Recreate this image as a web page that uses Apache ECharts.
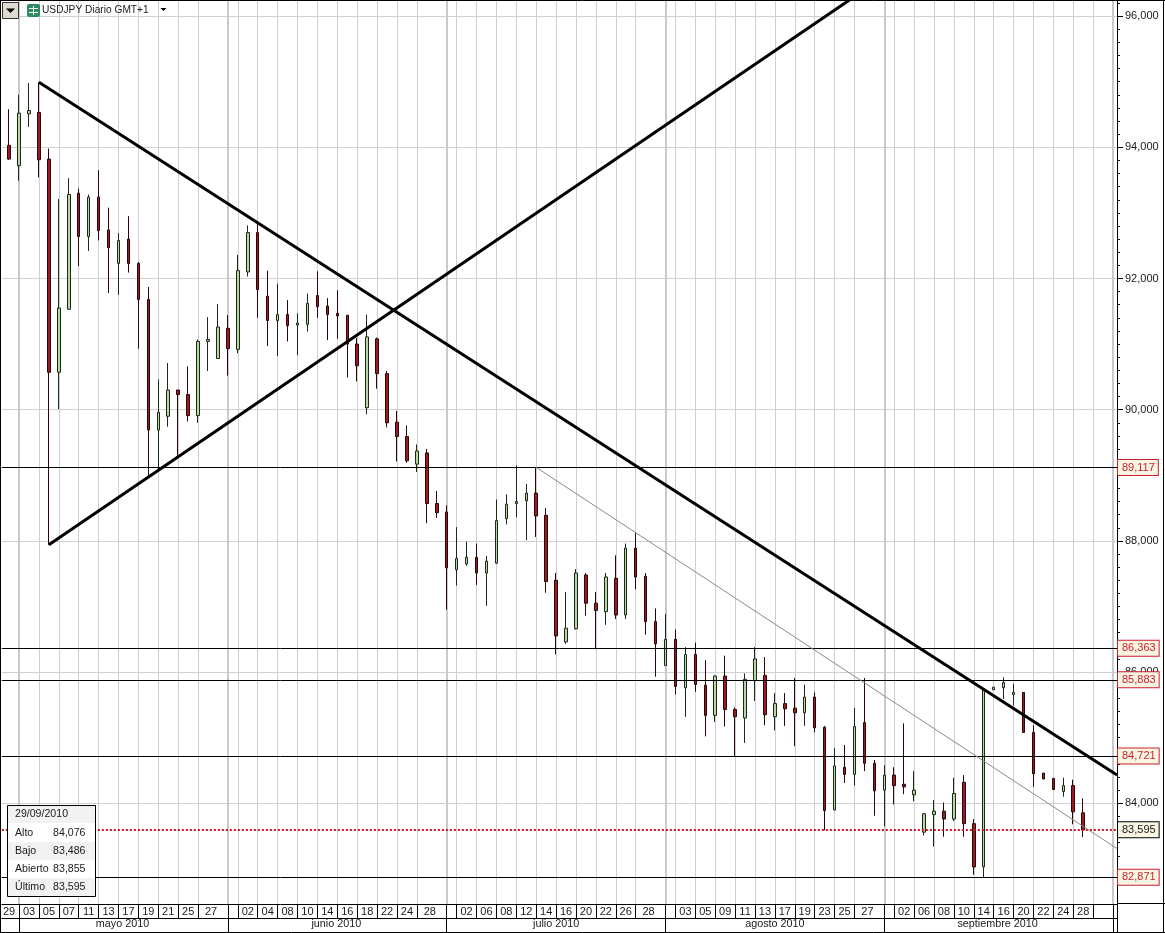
<!DOCTYPE html>
<html><head><meta charset="utf-8"><style>html,body{margin:0;padding:0;background:#fff}#c{width:1165px;height:933px}</style>
<script src="https://cdn.jsdelivr.net/npm/echarts@6/dist/echarts.min.js"></script></head>
<body><div id="c"></div>
<script>
const opens = [94.03,93.72,94.51,94.53,93.82,90.57,91.53,93.30,92.64,93.24,
92.74,92.23,92.60,92.23,91.68,89.69,89.90,90.30,90.23,89.91,
91.04,90.78,91.24,90.92,92.10,92.70,91.73,91.36,91.45,91.29,
91.30,91.74,91.58,91.47,91.44,91.00,90.03,91.08,90.55,89.81,
89.59,89.17,89.34,88.57,88.44,87.56,87.65,87.75,87.51,87.66,
88.34,88.57,88.61,88.73,88.39,87.40,86.46,86.66,87.48,87.05,
86.92,87.43,86.87,87.89,87.46,86.77,86.10,86.50,85.76,86.27,
85.80,85.34,85.94,85.43,85.30,85.87,85.95,85.32,85.52,85.45,
85.38,85.62,85.16,83.90,84.55,84.44,85.23,84.61,84.20,84.43,
84.29,84.13,83.56,83.83,83.88,83.76,84.32,83.69,83.03,85.73,
85.76,85.66,85.69,85.08,84.46,84.38,84.18,84.27,83.855];
const closes = [93.82,94.52,94.56,93.81,90.57,91.55,93.28,92.64,93.24,92.73,
92.47,92.58,92.23,91.68,89.69,89.96,90.30,90.23,89.91,91.04,
91.07,91.26,90.93,92.12,92.70,91.83,91.36,91.45,91.28,91.32,
91.62,91.57,91.45,91.43,91.00,90.67,91.11,90.55,89.80,89.59,
89.22,89.37,88.57,88.43,87.59,87.73,87.75,87.51,87.69,88.31,
88.56,88.60,88.73,88.38,87.38,86.55,86.67,87.51,87.05,86.94,
87.45,86.87,87.89,87.45,86.77,86.43,86.50,85.78,86.27,85.81,
85.34,85.94,85.43,85.32,85.89,86.20,85.35,85.52,85.44,85.38,
85.62,85.15,83.89,84.57,84.44,85.17,84.61,84.19,84.43,84.27,
84.25,84.20,83.84,83.88,83.76,84.15,83.69,83.03,85.74,85.77,
85.84,85.69,85.08,84.45,84.37,84.21,84.27,83.87,83.595];
const lows = [93.81,93.49,94.31,93.54,87.94,90.01,91.53,92.19,92.42,92.58,
91.78,91.75,92.09,90.93,88.99,89.05,89.74,89.26,89.82,89.80,
90.59,90.78,90.52,90.86,92.03,91.40,90.97,90.82,91.04,90.83,
91.19,91.40,91.06,91.08,90.49,90.43,89.93,90.32,89.73,89.21,
89.19,89.05,88.27,88.35,86.95,87.32,87.62,87.33,87.01,87.65,
88.25,88.36,88.01,88.06,87.21,86.27,86.43,86.65,86.86,86.35,
86.72,86.81,86.81,87.26,86.57,85.93,86.10,85.66,85.32,85.70,
85.02,85.24,85.17,84.72,84.92,85.56,85.19,85.11,85.18,84.87,
85.18,85.08,83.59,83.89,84.31,84.27,84.49,83.81,83.65,83.98,
84.14,84.03,83.51,83.34,83.49,83.73,83.49,82.91,82.87,85.73,
85.59,85.49,85.08,84.25,84.37,84.21,84.10,83.68,83.486];
const highs = [94.58,94.80,94.98,94.99,93.98,93.21,93.53,93.37,93.28,93.65,
93.08,92.69,92.95,92.25,91.87,90.46,90.71,90.30,90.66,91.07,
91.41,91.61,91.44,92.36,92.81,92.84,92.12,91.92,91.67,91.47,
91.77,92.11,91.70,91.82,91.44,91.09,91.45,91.10,90.59,89.98,
89.76,89.47,89.40,88.76,88.54,88.21,87.99,87.96,87.77,88.63,
88.71,89.15,88.87,89.12,88.50,87.51,87.22,87.57,87.51,87.22,
87.51,87.78,87.96,88.12,87.51,86.97,86.89,86.65,86.38,86.45,
86.18,85.95,86.25,85.46,85.98,86.38,86.23,85.68,85.68,85.91,
85.81,85.69,85.18,84.84,84.89,85.45,85.91,84.66,84.58,84.55,
85.22,84.49,83.85,84.05,84.01,84.39,84.43,83.76,85.75,85.77,
85.92,85.82,85.69,85.19,84.46,84.38,84.39,84.36,84.076];

const dayLabels = ['29','03','05','07','11','13','17','19','21','25','27',
 '02','04','08','10','14','16','18','22','24','28',
 '02','06','08','12','14','16','20','22','26','28',
 '03','05','09','11','13','17','19','23','25','27',
 '02','06','08','10','14','16','20','22','24','28'];
const dayLabelSlots = [1,3,5,7,9,11,13,15,17,19,21.3,
 25,27,29,31,33,35,37,39,41,43.3,
 47,49,51,53,55,57,59,61,63,65.3,
 69,71,73,75,77,79,81,83,85,87.3,
 91,93,95,97,99,101,103,105,107,109];
const dayTicks = [2,4,6,8,10,12,14,16,18,20,23,24,26,28,30,32,34,36,38,40,42,45,46,48,50,52,54,56,58,60,62,64,67,68,70,72,74,76,78,80,82,84,86,89,90,92,94,96,98,100,102,104,106,108,110,112];
const monthLabels = ['mayo 2010','junio 2010','julio 2010','agosto 2010','septiembre 2010'];
const monthLabelSlots = [12.4,33.9,56,78,100.4];
const monthTicks = [2,23,45,67,89,112];
const monthLines = [23,45,67,89,112];
const priceLabels = [84,86,88,90,92,94,96];
const levels = [89.117,86.363,85.883,84.721,82.871];
const lastPrice = 83.595;
const downTrend = [[4,94.99],[112.4,84.43]];
const upTrend = [[5,87.94],[85.5,96.245]];
const thinTrend = [[54,89.12],[112.4,83.31]];

const fmt = v => v.toFixed(3).replace('.', ',');
const minorTicks = [];
for (let k = 414; k <= 481; k++) minorTicks.push(k / 5);
const candles = opens.map((o, i) => [i + 1, o, closes[i], lows[i], highs[i]]);
const F = '"Liberation Sans", Arial, sans-serif';
const TXT = '#1a1a1a';
const last = opens.length - 1;

const xRange = {min: 0.267, max: 112.4};
const yRange = {min: 82.465, max: 96.245};

const tag = (v, border, color) => ({
  yAxis: v,
  lineStyle: border,
  label: {show: true, position: 'end', distance: 1, formatter: fmt(v), color, fontFamily: F, fontSize: 11,
    backgroundColor: '#f8f5e2', borderColor: color === TXT ? '#000' : '#cc1f2d', borderWidth: 1, padding: [2, 3, 1, 4], lineHeight: 12}
});

const trend = (data, color, width) => ({
  type: 'line', xAxisIndex: 2, yAxisIndex: 0, data, symbol: 'none', silent: true, z: 5, clip: true,
  lineStyle: {color, width, cap: 'butt'}
});

const infoRows = [['Alto', highs[last]], ['Bajo', lows[last]], ['Abierto', opens[last]], ['Último', closes[last]]];
const infoFont = '10.6px ' + F;
const infoGraphic = [
  {type: 'rect', shape: {x: 7.5, y: 805.5, width: 88, height: 91}, style: {fill: '#fff', stroke: '#000', lineWidth: 1}, z: 100},
  {type: 'rect', shape: {x: 8, y: 806, width: 87, height: 17}, style: {fill: '#f2f2f2'}, z: 100},
  {type: 'rect', shape: {x: 8, y: 842, width: 87, height: 18}, style: {fill: '#f2f2f2'}, z: 100},
  {type: 'rect', shape: {x: 8, y: 878, width: 87, height: 18}, style: {fill: '#f2f2f2'}, z: 100},
  {type: 'text', style: {x: 15, y: 814, text: '29/09/2010', font: infoFont, fill: TXT, textVerticalAlign: 'middle'}, z: 101}
];
infoRows.forEach((r, i) => {
  const y = 833 + i * 18;
  infoGraphic.push({type: 'text', style: {x: 15, y, text: r[0], font: infoFont, fill: TXT, textVerticalAlign: 'middle'}, z: 101});
  infoGraphic.push({type: 'text', style: {x: 85.5, y, text: fmt(r[1]), font: infoFont, fill: TXT, textAlign: 'right', textVerticalAlign: 'middle'}, z: 101});
});

const chrome = [
  {type: 'line', shape: {x1: 0.5, y1: 0, x2: 0.5, y2: 933}, style: {stroke: '#000', lineWidth: 1}, z: 90},
  {type: 'line', shape: {x1: 0, y1: 0.5, x2: 1165, y2: 0.5}, style: {stroke: '#000', lineWidth: 1}, z: 90},
  {type: 'line', shape: {x1: 1163.5, y1: 0, x2: 1163.5, y2: 933}, style: {stroke: '#000', lineWidth: 1}, z: 90},
  {type: 'line', shape: {x1: 0, y1: 932.5, x2: 1165, y2: 932.5}, style: {stroke: '#000', lineWidth: 1}, z: 90},
  {type: 'line', shape: {x1: 1117, y1: 903.5, x2: 1165, y2: 903.5}, style: {stroke: '#000', lineWidth: 1}, z: 90},
  {type: 'line', shape: {x1: 1117.5, y1: 904, x2: 1117.5, y2: 933}, style: {stroke: '#000', lineWidth: 1}, z: 90},
  {type: 'rect', shape: {x: 2.5, y: 2.5, width: 16, height: 16}, style: {fill: '#dedbd2', stroke: '#333', lineWidth: 1}, z: 100},
  {type: 'polygon', shape: {points: [[6, 8.5], [15, 8.5], [10.5, 13]]}, style: {fill: '#000'}, z: 101},
  {type: 'rect', shape: {x: 27, y: 4, width: 13, height: 13, r: 2}, style: {fill: '#2e8b62'}, z: 100},
  {type: 'line', shape: {x1: 29, y1: 8.5, x2: 38, y2: 8.5}, style: {stroke: '#fff', lineWidth: 1}, z: 101},
  {type: 'line', shape: {x1: 29, y1: 12.5, x2: 38, y2: 12.5}, style: {stroke: '#fff', lineWidth: 1}, z: 101},
  {type: 'line', shape: {x1: 33.5, y1: 6, x2: 33.5, y2: 15}, style: {stroke: '#fff', lineWidth: 1}, z: 101},
  {type: 'text', style: {x: 42, y: 10, text: 'USDJPY Diario GMT+1', font: '10.2px ' + F, fill: TXT, textVerticalAlign: 'middle'}, z: 101},
  {type: 'polygon', shape: {points: [[160.5, 8], [166.5, 8], [163.5, 11]]}, style: {fill: '#000'}, z: 101}
];

const chart = echarts.init(document.getElementById('c'), null, {renderer: 'canvas'});
chart.setOption({
  animation: false,
  backgroundColor: '#fff',
  grid: {left: 0, top: 0, width: 1117, height: 904, containLabel: false},
  graphic: chrome.concat(infoGraphic),
  xAxis: [
    {type: 'value', ...xRange, position: 'bottom',
      axisLine: {show: true, lineStyle: {color: '#000'}},
      axisTick: {show: true, customValues: dayTicks, length: 14, lineStyle: {color: '#000'}},
      splitLine: {show: true, customValues: dayTicks, lineStyle: {color: '#d0d0d0', width: 1}},
      axisLabel: {show: true, customValues: dayLabelSlots, margin: 2, fontFamily: F, fontSize: 11, color: TXT,
        hideOverlap: false, formatter: v => dayLabels[dayLabelSlots.indexOf(v)] || ''}},
    {type: 'value', ...xRange, position: 'bottom', offset: 14,
      axisLine: {show: true, lineStyle: {color: '#000'}},
      axisTick: {show: true, customValues: monthTicks, length: 14, lineStyle: {color: '#000'}},
      splitLine: {show: true, customValues: monthLines, lineStyle: {color: '#cacaca', width: 2}},
      axisLabel: {show: true, customValues: monthLabelSlots, margin: 1, fontFamily: F, fontSize: 10.8, color: TXT,
        hideOverlap: false, formatter: v => monthLabels[monthLabelSlots.indexOf(v)] || ''}},
    {type: 'value', ...xRange, show: false}
  ],
  yAxis: [
    {type: 'value', ...yRange, position: 'right', scale: true,
      axisLine: {show: true, lineStyle: {color: '#000', width: 1}},
      axisTick: {show: true, customValues: priceLabels, length: 6, lineStyle: {color: '#000'}},
      splitLine: {show: true, customValues: priceLabels, lineStyle: {color: '#d0d0d0', width: 1}},
      axisLabel: {show: true, customValues: priceLabels, margin: 8, fontFamily: F, fontSize: 11, color: TXT,
        hideOverlap: false, formatter: v => fmt(v)}},
    {type: 'value', ...yRange, position: 'right', scale: true, offset: 0,
      axisLine: {show: true, lineStyle: {color: '#000', width: 1}},
      axisTick: {show: true, customValues: minorTicks, length: 3, lineStyle: {color: '#000', width: 1}},
      splitLine: {show: false},
      axisLabel: {show: false}}
  ],
  series: [
    {type: 'candlestick', xAxisIndex: 0, yAxisIndex: 0, barWidth: 3, z: 3, silent: true,
      encode: {x: 0, y: [1, 2, 3, 4]}, data: candles,
      itemStyle: {color: '#b6d6a6', color0: '#9a1c22', borderColor: '#1c2a18', borderColor0: '#2a0608', borderWidth: 1},
      markLine: {silent: true, animation: false, symbol: ['none', 'none'], precision: 3,
        data: levels.map(v => tag(v, {color: '#000', width: 1, type: 'solid'}, '#cc1f2d'))
          .concat([tag(lastPrice, {color: '#c8141e', width: 2, type: [2, 2]}, TXT)])}},
    trend(downTrend, '#000', 3),
    trend(upTrend, '#000', 3),
    trend(thinTrend, '#8a8a8a', 1)
  ]
});
</script></body></html>
